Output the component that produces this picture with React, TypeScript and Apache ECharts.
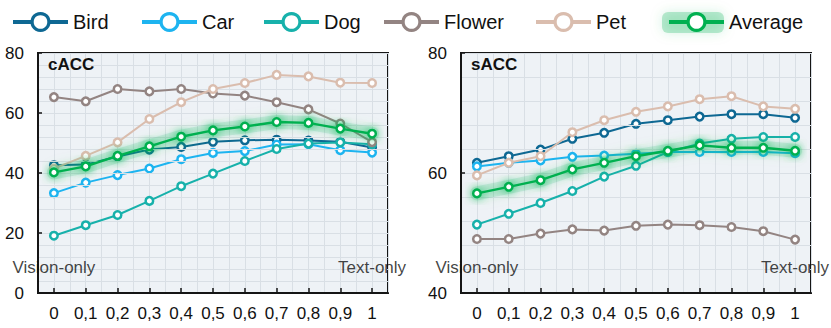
import React, { useEffect, useRef } from "react";
import * as echarts from "echarts";

const categories = ["0", "0,1", "0,2", "0,3", "0,4", "0,5", "0,6", "0,7", "0,8", "0,9", "1"];
const seriesNames = ["Bird", "Car", "Dog", "Flower", "Pet", "Average"];
const seriesColors = ["#0e6893", "#1db4f0", "#17b1ab", "#938482", "#dabdae", "#00b050"];

// cACC (left)
const cBird = [42.6, 42.8, 45.5, 47.8, 48.7, 50.4, 50.9, 51.1, 50.8, 50.4, 48.5];
const cCar = [33.3, 36.8, 39.3, 41.5, 44.6, 46.7, 47.3, 49.5, 49.6, 47.6, 46.8];
const cDog = [19.1, 22.6, 26.0, 30.7, 35.6, 39.8, 44.0, 48.0, 49.8, 50.2, 49.6];
const cFlower = [65.3, 63.9, 68.0, 67.2, 68.0, 66.5, 65.8, 63.6, 61.2, 56.5, 50.3];
const cPet = [41.5, 45.7, 50.2, 58.0, 63.6, 68.0, 70.0, 72.7, 72.2, 70.1, 70.0];
const cAverage = [40.2, 42.2, 45.7, 48.9, 52.1, 54.2, 55.5, 57.0, 56.7, 54.8, 53.1];

// sACC (right)
const sBird = [61.7, 62.8, 63.9, 65.7, 66.7, 68.2, 68.8, 69.4, 69.8, 69.8, 69.2];
const sCar = [61.1, 61.7, 62.1, 62.7, 62.9, 63.2, 63.5, 63.5, 63.5, 63.5, 63.3];
const sDog = [51.4, 53.2, 55.0, 57.0, 59.4, 61.2, 63.5, 64.9, 65.7, 66.0, 66.0];
const sFlower = [49.0, 49.0, 49.9, 50.6, 50.4, 51.2, 51.4, 51.3, 51.0, 50.3, 48.9];
const sPet = [59.6, 61.7, 62.8, 66.8, 68.8, 70.2, 71.1, 72.3, 72.8, 71.1, 70.7];
const sAverage = [56.6, 57.7, 58.8, 60.6, 61.7, 62.8, 63.7, 64.6, 64.2, 64.2, 63.7];

const panelTitles = ["cACC", "sACC"];
const endLabels = ["Vision-only", "Text-only"];

const FONT = "'Liberation Sans', Arial, sans-serif";
const TEXT = "#111111";
const GLOW = "rgba(0,185,85,0.9)";

export default function App() {
  const ref = useRef<HTMLDivElement>(null);

  useEffect(() => {
    if (!ref.current) return;
    const chart = echarts.init(ref.current, null, { renderer: "svg" });

    const leftData = [cBird, cCar, cDog, cFlower, cPet, cAverage];
    const rightData = [sBird, sCar, sDog, sFlower, sPet, sAverage];

    const grids = [
      { left: 38, top: 53, width: 350, height: 240 },
      { left: 461, top: 53, width: 350, height: 240 },
    ].map((g) => ({
      ...g,
      show: true,
      backgroundColor: "#eef2f6",
      borderColor: "#151515",
      borderWidth: 2,
      z: 0,
    }));

    const xAxes: any[] = [];
    const yAxes: any[] = [];
    [0, 1].forEach((gi) => {
      xAxes.push({
        type: "category",
        gridIndex: gi,
        data: categories,
        boundaryGap: true,
        axisLine: { show: true, onZero: false, lineStyle: { color: "#151515", width: 2 } },
        axisTick: { show: true, inside: true, alignWithLabel: true, length: 5, lineStyle: { color: "#151515", width: 1.5 } },
        axisLabel: { fontSize: 17, color: TEXT, fontFamily: FONT, margin: 12, interval: 0 },
        splitLine: { show: false },
        z: 5,
      });
    });
    [0, 1].forEach((gi) => {
      xAxes.push({
        type: "value",
        gridIndex: gi,
        position: "top",
        min: -0.5,
        max: 10.5,
        interval: 0.5,
        axisLine: { show: false, onZero: false },
        axisTick: { show: false },
        axisLabel: { show: false },
        splitLine: { show: true, lineStyle: { color: "#d9dfe5", width: 1 } },
      });
    });
    const yRanges = [
      [0, 80],
      [40, 80],
    ];
    [0, 1].forEach((gi) => {
      yAxes.push({
        type: "value",
        gridIndex: gi,
        min: yRanges[gi][0],
        max: yRanges[gi][1],
        interval: 20,
        axisLine: { show: true, onZero: false, lineStyle: { color: "#151515", width: 2 } },
        axisTick: { show: true, inside: true, length: 4, lineStyle: { color: "#151515", width: 1.5 } },
        axisLabel: { fontSize: 17, color: TEXT, fontFamily: FONT, margin: 14 },
        splitLine: { show: true, lineStyle: { color: "#d9dfe5", width: 1 } },
        minorTick: { show: false, splitNumber: 5 },
        minorSplitLine: { show: true, lineStyle: { color: "#d9dfe5", width: 1 } },
        z: 5,
      });
    });

    const series: any[] = [];
    [leftData, rightData].forEach((panel, gi) => {
      panel.forEach((vals, si) => {
        const color = seriesColors[si];
        const isAvg = seriesNames[si] === "Average";
        if (isAvg) {
          // soft glow band under the Average line
          series.push({
            type: "line",
            name: "_glow" + gi,
            xAxisIndex: gi,
            yAxisIndex: gi,
            data: vals,
            symbol: "none",
            silent: true,
            z: 3 + si - 0.5,
            lineStyle: { color: "rgba(0,176,80,0.13)", width: 14, cap: "round", join: "round", shadowBlur: 14, shadowColor: "rgba(0,176,80,0.45)" },
            emphasis: { disabled: true },
          });
        }
        series.push({
          type: "line",
          name: seriesNames[si],
          xAxisIndex: gi,
          yAxisIndex: gi,
          data: vals,
          color,
          symbol: "circle",
          symbolSize: 7.5,
          z: 3 + si,
          lineStyle: isAvg
            ? { color, width: 2.4, shadowBlur: 10, shadowColor: GLOW }
            : { color, width: 2 },
          itemStyle: isAvg
            ? { color: "#ffffff", borderColor: color, borderWidth: 2.5, shadowBlur: 10, shadowColor: GLOW }
            : { color: "#ffffff", borderColor: color, borderWidth: 2.5 },
          emphasis: { disabled: true },
        });
      });
    });

    // End labels
    const endY = [8.5, 44.2];
    [0, 1].forEach((gi) => {
      series.push({
        type: "scatter",
        name: "_labels" + gi,
        xAxisIndex: gi,
        yAxisIndex: gi,
        symbolSize: 1,
        itemStyle: { color: "rgba(0,0,0,0)" },
        silent: true,
        z: 10,
        label: {
          show: true,
          position: "inside",
          fontSize: 17,
          color: TEXT,
          fontFamily: FONT,
          formatter: (p: any) => p.data.text,
        },
        data: [
          { value: [0, endY[gi]], text: endLabels[0] },
          { value: [categories.length - 1, endY[gi]], text: endLabels[1] },
        ],
      });
    });

    const graphic: any[] = panelTitles.map((t, gi) => ({
      type: "text",
      left: grids[gi].left + 10,
      top: 56,
      z: 20,
      style: { text: t, fontSize: 17, fontWeight: "bold", fill: TEXT, fontFamily: FONT },
    }));
    // soft glow behind the Average legend icon
    graphic.push({
      type: "rect",
      left: 662,
      top: 12,
      z: -1,
      shape: { width: 62, height: 21, r: 6 },
      style: { fill: "rgba(0,176,80,0.25)", shadowBlur: 12, shadowColor: "rgba(0,176,80,0.65)" },
    });

    const legendLeft = [11, 140, 262, 382, 534, 667];
    const legends = seriesNames.map((n, i) => ({
      data: [n],
      left: legendLeft[i],
      top: 12,
      padding: 0,
      itemWidth: 55,
      itemHeight: 21,
      itemGap: 5,
      selectedMode: false,
      z: 4,
      textStyle: { fontSize: 20, color: TEXT, fontFamily: FONT },
      itemStyle: { borderWidth: 3.2, shadowBlur: 0 },
      lineStyle: { width: 4, shadowBlur: 0 },
    }));

    chart.setOption({
      animation: false,
      backgroundColor: "#ffffff",
      textStyle: { fontFamily: FONT },
      grid: grids,
      xAxis: xAxes,
      yAxis: yAxes,
      legend: legends,
      graphic,
      series,
    });

    return () => chart.dispose();
  }, []);

  return (
    <div
      ref={ref}
      style={{ position: "absolute", left: 0, top: 0, width: 831, height: 328 }}
    />
  );
}
